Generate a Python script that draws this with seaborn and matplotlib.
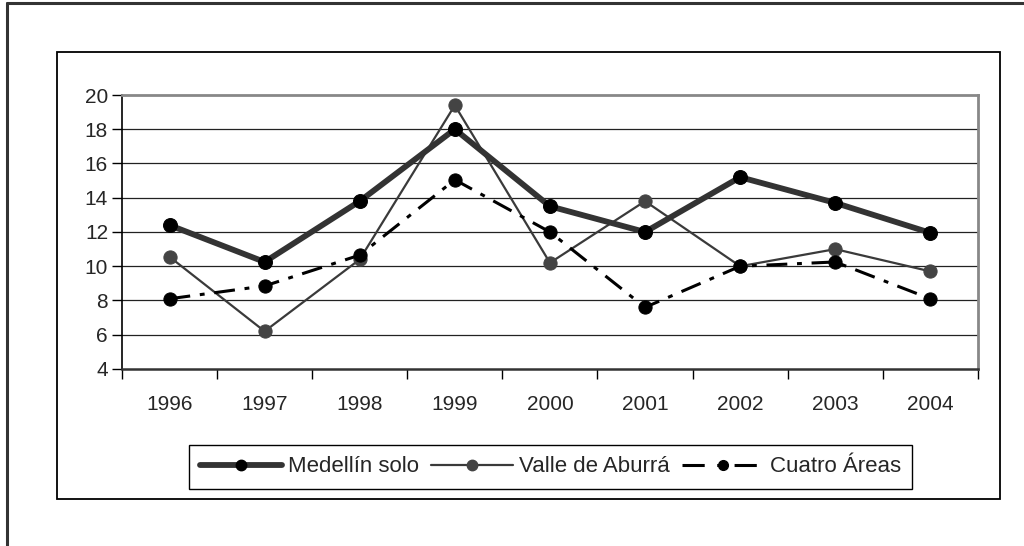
import numpy as np
import pandas as pd
import seaborn as sns
import matplotlib.pyplot as plt
from matplotlib.lines import Line2D

# datos
anios = ['1996', '1997', '1998', '1999', '2000', '2001', '2002', '2003', '2004']
medellin_solo = [12.4, 10.25, 13.8, 18.0, 13.5, 12.0, 15.2, 13.7, 11.95]
valle_aburra = [10.55, 6.2, 10.4, 19.4, 10.2, 13.8, 10.0, 11.0, 9.7]
cuatro_areas = [8.1, 8.85, 10.65, 15.05, 12.0, 7.6, 10.0, 10.25, 8.1]
y_ticks = [4, 6, 8, 10, 12, 14, 16, 18, 20]

sns.set_style('white')
plt.rcParams['font.family'] = ['Liberation Sans Narrow', 'Liberation Sans', 'DejaVu Sans']
plt.rcParams['lines.scale_dashes'] = False

df = pd.DataFrame({'pos': np.arange(len(anios)),
                   'Medellín solo': medellin_solo,
                   'Valle de Aburrá': valle_aburra,
                   'Cuatro Áreas': cuatro_areas})

fig = plt.figure(figsize=(10.24, 5.46), dpi=100)
ax = fig.add_axes([0.1191, 0.3242, 0.8359, 0.5018])

# marcos exteriores
fig.patches.append(plt.Rectangle((57 / 1024, 1 - 499 / 546), 943 / 1024, 447 / 546,
                                 transform=fig.transFigure, fill=False,
                                 edgecolor='black', lw=1.3))
fig.add_artist(Line2D([7 / 1024, 7 / 1024], [0, 1 - 3 / 546], transform=fig.transFigure,
                      color='#333333', lw=2.2))
fig.add_artist(Line2D([7 / 1024, 1], [1 - 3 / 546, 1 - 3 / 546], transform=fig.transFigure,
                      color='#333333', lw=2.2))

# lineas horizontales
for v in y_ticks[1:-1]:
    ax.axhline(v, color='#222222', lw=0.9, zorder=0)

sns.lineplot(data=df, x='pos', y='Valle de Aburrá', ax=ax, color='#3a3a3a', lw=1.6,
             marker='o', markersize=9.5, markerfacecolor='#444444', markeredgecolor='#444444',
             zorder=3)
sns.lineplot(data=df, x='pos', y='Cuatro Áreas', ax=ax, color='black', lw=2.2,
             linestyle=(0, (15, 7, 3.5, 7)), marker='o', markersize=9.5,
             markerfacecolor='black', markeredgecolor='black', zorder=4)
sns.lineplot(data=df, x='pos', y='Medellín solo', ax=ax, color='#333333', lw=4.2,
             marker='o', markersize=10, markerfacecolor='black', markeredgecolor='black',
             zorder=5)

ax.set_xlim(-0.5, len(anios) - 0.5)
ax.set_ylim(4, 20)
ax.set_yticks(y_ticks)
ax.set_yticklabels([str(t) for t in y_ticks])
ax.set_xticks(np.arange(len(anios) + 1) - 0.5)
ax.set_xticklabels([])
ax.set_xticks(np.arange(len(anios)), minor=True)
ax.set_xticklabels(anios, minor=True)
ax.tick_params(axis='x', which='major', direction='out', length=7, width=1, color='black', bottom=True)
ax.tick_params(axis='x', which='minor', length=0, pad=19, labelsize=15)
ax.tick_params(axis='y', direction='out', length=7, width=1, color='black', left=True,
               pad=3, labelsize=15)
ax.set_xlabel('')
ax.set_ylabel('')

for s in ['top', 'right']:
    ax.spines[s].set_color('#888888')
    ax.spines[s].set_linewidth(2)
ax.spines['left'].set_color('black')
ax.spines['left'].set_linewidth(1.2)
ax.spines['bottom'].set_color('#333333')
ax.spines['bottom'].set_linewidth(1.8)

handles = [
    Line2D([], [], color='#333333', lw=4.2, marker='o', markersize=7.5,
           markerfacecolor='black', markeredgecolor='black'),
    Line2D([], [], color='#3a3a3a', lw=1.6, marker='o', markersize=7.5,
           markerfacecolor='#444444', markeredgecolor='#444444'),
    Line2D([], [], color='black', lw=2.2, linestyle=(0, (16, 9, 3.5, 9)), marker='o',
           markersize=7, markerfacecolor='black', markeredgecolor='black'),
]
leg = fig.legend(handles, ['Medellín solo', 'Valle de Aburrá', 'Cuatro Áreas'],
                 loc='center', bbox_to_anchor=(0.5376, 0.1447), ncol=3, fontsize=16,
                 frameon=True, fancybox=False, edgecolor='black', framealpha=1,
                 handlelength=3.7, handletextpad=0.25, columnspacing=0.55,
                 borderpad=0.5, borderaxespad=0)
leg.get_frame().set_linewidth(1)

plt.savefig('out.png', dpi=100)
